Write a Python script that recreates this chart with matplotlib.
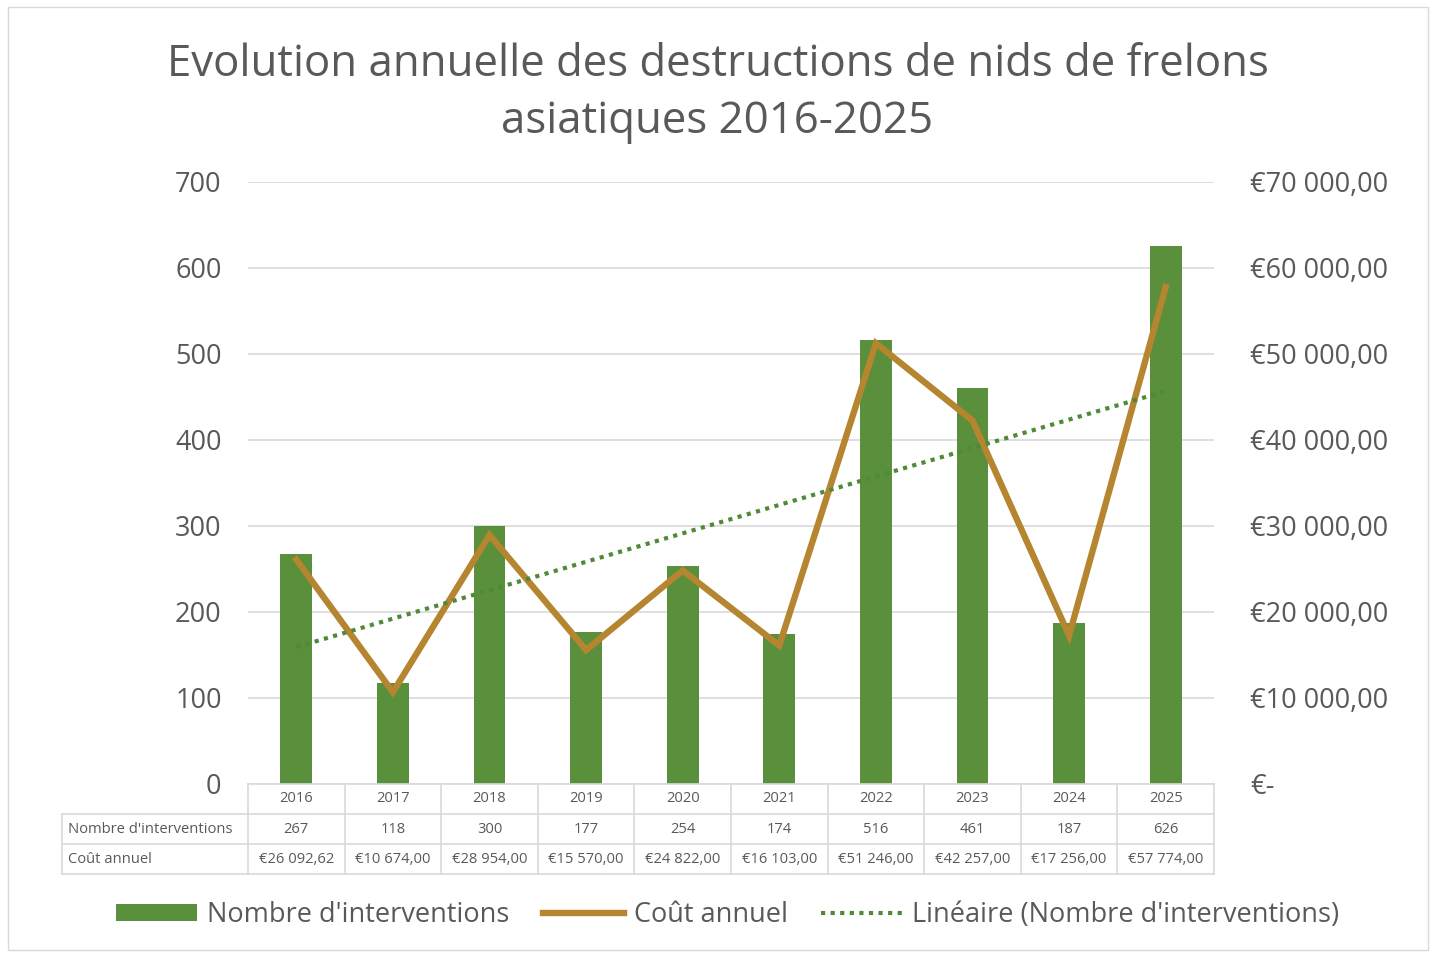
import matplotlib
matplotlib.use("Agg")
import matplotlib.pyplot as plt
import numpy as np
from matplotlib.patches import Rectangle
from matplotlib.lines import Line2D
from matplotlib.patches import Patch

years = ["2016", "2017", "2018", "2019", "2020", "2021", "2022", "2023", "2024", "2025"]
interventions = [267, 118, 300, 177, 254, 174, 516, 461, 187, 626]
costs = [26092.62, 10674.00, 28954.00, 15570.00, 24822.00, 16103.00, 51246.00, 42257.00, 17256.00, 57774.00]
left_ticks = [0, 100, 200, 300, 400, 500, 600, 700]
right_ticks = [0, 10000, 20000, 30000, 40000, 50000, 60000, 70000]
title = "Evolution annuelle des destructions de nids de frelons\nasiatiques 2016-2025"
row_labels = ["Nombre d'interventions", "Coût annuel"]

GREEN = "#5a8f3c"
GOLD = "#b5852f"
TREND = "#4f8a38"
TXT = "#595959"
GRID = "#d9d9d9"

plt.rcParams['font.family'] = ['Open Sans', 'DejaVu Sans']

def eur(v):
    if v == 0:
        return "€-"
    s = f"{v:,.2f}"
    ip, dp = s.split(".")
    return "€" + ip.replace(",", " ") + "," + dp

fig = plt.figure(figsize=(14.35, 9.55), dpi=100)
fig.patches.append(Rectangle((8/1435, 5/955), 1420/1435, 943/955, transform=fig.transFigure,
                             fill=False, edgecolor="#d9d9d9", linewidth=1))
ax = fig.add_axes([248/1435, 1-784/955, (1214-248)/1435, (784-182)/955])
ax2 = ax.twinx()

x = np.arange(len(years))
ax.bar(x, interventions, width=0.33, color=GREEN, zorder=2)
ax2.plot(x, costs, color=GOLD, linewidth=4.6, zorder=3, solid_joinstyle='miter')

# linear trendline (left-axis scale, drawn on top)
xs = x + 1
slope, intercept = np.polyfit(xs, interventions, 1)
ax2.plot([x[0], x[-1]], [slope*xs[0]+intercept, slope*xs[-1]+intercept],
         linestyle=(0, (1, 1.3)), color=TREND, linewidth=3, zorder=4, transform=ax.transData)

ax.set_xlim(-0.5, len(years)-0.5)
ax.set_ylim(0, 700)
ax2.set_ylim(0, 70000)
ax.set_yticks(left_ticks)
ax.set_yticklabels([str(t) for t in left_ticks])
ax2.set_yticks(right_ticks)
ax2.set_yticklabels([eur(t) for t in right_ticks])
for a in (ax, ax2):
    for s in a.spines.values():
        s.set_visible(False)
    a.tick_params(length=0, labelsize=19.5, labelcolor=TXT)
ax.tick_params(axis='y', pad=19)
ax2.tick_params(axis='y', pad=26)
ax.set_xticks([])
ax.yaxis.grid(True, color=GRID, linewidth=1.2, zorder=0)
ax.set_axisbelow(True)

fig.text(0.5, 1-93/955, title, ha='center', va='center', fontsize=31.5, color=TXT, linespacing=1.38)

# data table
trans = ax.get_xaxis_transform()
row_h = 30/602
rows_y = [0, -row_h, -2*row_h, -3*row_h]
label_left = -0.5 - (248-62)/96.6
lc = dict(color=GRID, linewidth=1.2, transform=trans, clip_on=False)
ax.plot([-0.5, len(years)-0.5], [0, 0], **lc)
for yv in rows_y[1:]:
    ax.plot([label_left, len(years)-0.5], [yv, yv], **lc)
for i in range(len(years)+1):
    ax.plot([i-0.5, i-0.5], [0, rows_y[-1]], **lc)
ax.plot([label_left, label_left], [rows_y[1], rows_y[-1]], **lc)
fs = 10.6
for i, yr in enumerate(years):
    ax.text(i, -0.5*row_h, yr, ha='center', va='center', fontsize=fs, color=TXT, transform=trans)
    ax.text(i, -1.5*row_h, str(interventions[i]), ha='center', va='center', fontsize=fs, color=TXT, transform=trans)
    ax.text(i, -2.5*row_h, eur(costs[i]), ha='center', va='center', fontsize=fs, color=TXT, transform=trans)
for j, lab in enumerate(row_labels):
    ax.text(label_left + 0.06, -(1.5+j)*row_h, lab, ha='left', va='center', fontsize=fs, color=TXT, transform=trans)

handles = [Patch(facecolor=GREEN, edgecolor='none'),
           Line2D([], [], color=GOLD, linewidth=4.6),
           Line2D([], [], color=TREND, linewidth=3, linestyle=(0, (1, 1.3)))]
labels = ["Nombre d'interventions", "Coût annuel", "Linéaire (Nombre d'interventions)"]
leg = fig.legend(handles, labels, loc='center', bbox_to_anchor=(0.507, 1-915/955), ncol=3,
                 frameon=False, fontsize=19.5, handlelength=3, handleheight=0.6,
                 columnspacing=1.25, handletextpad=0.35)
for t in leg.get_texts():
    t.set_color(TXT)

fig.savefig("out.png", dpi=100)
